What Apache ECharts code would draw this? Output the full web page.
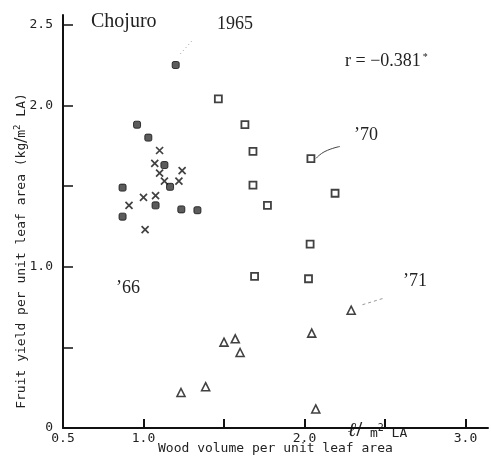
<!DOCTYPE html>
<html><head><meta charset="utf-8">
<script src="https://cdn.jsdelivr.net/npm/echarts@6/dist/echarts.min.js"></script>
<style>html,body{margin:0;padding:0;background:#fff}#c{width:491px;height:456px}</style>
</head><body><div id="c"></div>
<script>
// Data (x: wood volume per unit leaf area, y: fruit yield per unit leaf area)
const y1965 = [[1.20,2.25],[0.96,1.88],[1.03,1.80],[1.13,1.63],[1.165,1.495],[0.87,1.49],[1.075,1.38],[0.87,1.31],[1.235,1.355],[1.335,1.35]];
const y1966 = [[1.10,1.72],[1.07,1.64],[1.10,1.58],[1.24,1.595],[1.13,1.53],[1.22,1.53],[1.00,1.43],[1.075,1.44],[0.91,1.38],[1.01,1.23]];
const y1970 = [[1.465,2.04],[1.63,1.88],[1.68,1.715],[1.68,1.505],[1.77,1.38],[2.04,1.67],[2.19,1.455],[2.035,1.14],[2.025,0.925],[1.69,0.94]];
const y1971 = [[1.233,0.22],[1.386,0.256],[1.50,0.532],[1.57,0.553],[1.60,0.468],[2.29,0.73],[2.045,0.588],[2.07,0.118]];
const leader1965 = [[1.23,2.32],[1.31,2.41]];
const leader1970 = [[2.071,1.671],[2.127,1.714],[2.22,1.745]];
const leader1971 = [[2.36,0.764],[2.50,0.807]];
const xTickValues = [0.5,1.0,1.5,2.0,2.5,3.0];
const xLabelValues = [0.5,1.0,2.0,3.0];
const yTickValues = [0,0.5,1.0,1.5,2.0,2.5];
const yLabelValues = [0,1.0,2.0,2.5];

const mono = '"DejaVu Sans Mono", "Liberation Mono", monospace';
const serif = '"Liberation Serif", "DejaVu Serif", serif';
const ink = '#111';

const chart = echarts.init(document.getElementById('c'));
chart.setOption({
  animation: false,
  backgroundColor: '#fff',
  grid: {left: 63, right: 3, top: 15, bottom: 28},
  xAxis: {
    type: 'value', min: 0.5, max: 3.14,
    axisLine: {show: true, onZero: false, lineStyle: {color: ink, width: 2}},
    axisTick: {show: true, inside: true, length: 9, customValues: xTickValues, lineStyle: {color: ink, width: 2}},
    axisLabel: {customValues: xLabelValues, color: '#222', fontFamily: mono, fontSize: 13, margin: 4,
      formatter: v => v.toFixed(1)},
    splitLine: {show: false}
  },
  yAxis: {
    type: 'value', min: 0, max: 2.56,
    axisLine: {show: true, lineStyle: {color: ink, width: 2}},
    axisTick: {show: true, inside: true, length: 10, customValues: yTickValues, lineStyle: {color: ink, width: 1.5}},
    axisLabel: {customValues: yLabelValues, color: '#222', fontFamily: mono, fontSize: 13, margin: 10,
      formatter: v => v === 0 ? '0' : v.toFixed(1)},
    splitLine: {show: false}
  },
  series: [
    {name: '1965', type: 'scatter', data: y1965, symbol: 'roundRect', symbolSize: 7,
     itemStyle: {color: '#333', borderColor: ink, borderWidth: 1}},
    {name: '1966', type: 'scatter', data: y1966, symbol: 'path://M0,0L10,10M10,0L0,10', symbolSize: 7,
     itemStyle: {color: ink, borderColor: ink, borderWidth: 1.7}},
    {name: '1970', type: 'scatter', data: y1970, symbol: 'rect', symbolSize: 7,
     itemStyle: {color: '#fff', borderColor: ink, borderWidth: 1.8}},
    {name: '1971', type: 'scatter', data: y1971, symbol: 'triangle', symbolSize: 8,
     itemStyle: {color: '#fff', borderColor: ink, borderWidth: 1.6}},
    {type: 'line', data: leader1965, symbol: 'none', lineStyle: {color: '#999', width: 1, type: [1, 3]}},
    {type: 'line', data: leader1970, symbol: 'none', smooth: true, lineStyle: {color: '#444', width: 1}},
    {type: 'line', data: leader1971, symbol: 'none', lineStyle: {color: '#999', width: 1, type: [3, 3]}}
  ],
  graphic: [
    {type: 'text', left: 91, top: 12, style: {text: 'Chojuro', font: '20px ' + serif, fill: '#222'}},
    {type: 'text', left: 217, top: 15, style: {text: '1965', font: '18px ' + serif, fill: '#222'}},
    {type: 'text', left: 345, top: 52, style: {
      text: '{a|r = −0.381}{s|*}', rich: {a: {font: '18px ' + serif, fill: '#222'}, s: {font: '10px ' + serif, fill: '#222', verticalAlign: 'top', padding: [0,0,8,2]}}}},
    {type: 'text', left: 354, top: 126, style: {text: '’70', font: '18px ' + serif, fill: '#222'}},
    {type: 'text', left: 116, top: 279, style: {text: '’66', font: '18px ' + serif, fill: '#222'}},
    {type: 'text', left: 403, top: 272, style: {text: '’71', font: '18px ' + serif, fill: '#222'}},
    {type: 'text', left: 158, top: 442, style: {text: 'Wood volume per unit leaf area', font: '13px ' + mono, fill: '#222'}},
    {type: 'text', left: 348, top: 421, style: {
      text: '{l|ℓ}{b|/}{m| m}{p|2}{m| LA}',
      rich: {
        l: {font: 'italic bold 20px ' + serif, fill: '#222'},
        b: {font: 'bold 20px ' + serif, fill: '#222'},
        m: {font: '13px ' + mono, fill: '#222', padding: [6,0,0,0]},
        p: {font: '10px ' + mono, fill: '#222', padding: [0,0,6,0]}
      }}},
    {type: 'text', x: 22, y: 251, rotation: Math.PI / 2, style: {
      text: '{t|Fruit yield per unit leaf area (kg}{b|/}{t|m}{p|2}{t| LA)}',
      align: 'center', verticalAlign: 'middle',
      rich: {
        t: {font: '13px ' + mono, fill: '#222'},
        b: {font: 'bold 18px ' + serif, fill: '#222'},
        p: {font: '9px ' + mono, fill: '#222', padding: [0,0,8,0]}
      }}}
  ]
});
</script></body></html>
